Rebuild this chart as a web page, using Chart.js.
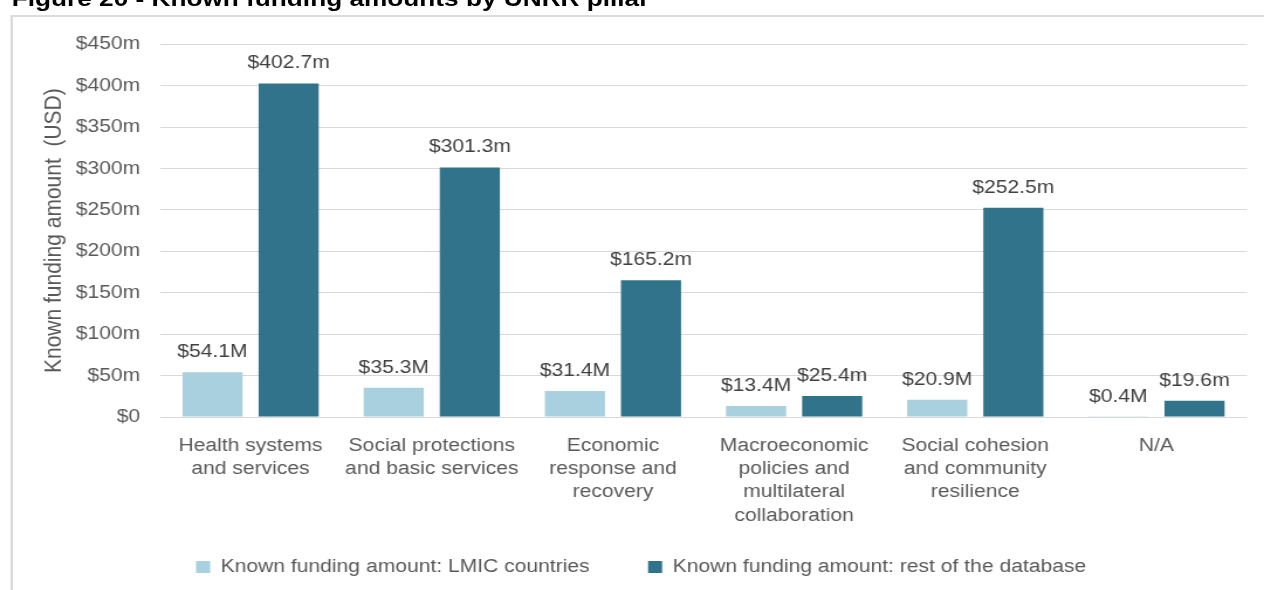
<!DOCTYPE html>
<html>
<head>
<meta charset="utf-8">
<script src="https://cdn.jsdelivr.net/npm/chart.js@4"></script>
<style>
  html, body { margin: 0; padding: 0; background: #fff; overflow: hidden; }
  #wrap {
    position: absolute; left: 0; top: 0;
    width: 1080px; height: 590px;
    transform: scaleX(1.1704); transform-origin: 0 0;
    overflow: hidden;
  }
  #frame {
    position: absolute; left: 8.5px; top: 15px; width: 1200px; height: 700px;
    border-left: 2px solid #d9d9d9; border-top: 2px solid #dcdcdc;
  }
  #title {
    position: absolute; left: 10px; top: -11.8px;
    font: bold 22.4px "Liberation Sans", Arial, sans-serif; line-height: 22px;
    color: #000; white-space: nowrap;
  }
  #chart { position: absolute; left: 0; top: 0; }
</style>
</head>
<body>
<div id="wrap">
  <div id="frame"></div>
  <div id="title">Figure 20 - Known funding amounts by UNRR pillar</div>
  <canvas id="chart" width="1080" height="590"></canvas>
</div>
<script>
// data
const categories = [
  ['Health systems', 'and services'],
  ['Social protections', 'and basic services'],
  ['Economic', 'response and', 'recovery'],
  ['Macroeconomic', 'policies and', 'multilateral', 'collaboration'],
  ['Social cohesion', 'and community', 'resilience'],
  ['N/A']
];
const lmicValues = [54.1, 35.3, 31.4, 13.4, 20.9, 0.4];
const restValues = [402.7, 301.3, 165.2, 25.4, 252.5, 19.6];
const yTicks = [0, 50, 100, 150, 200, 250, 300, 350, 400, 450];

const FONT = '"Liberation Sans", Arial, sans-serif';

// label di atas setiap bar
const barLabels = {
  id: 'barLabels',
  afterDatasetsDraw(chart) {
    const ctx = chart.ctx;
    ctx.save();
    ctx.font = '18px ' + FONT;
    ctx.fillStyle = '#404040';
    ctx.textAlign = 'center';
    ctx.textBaseline = 'alphabetic';
    chart.data.datasets.forEach((ds, i) => {
      const meta = chart.getDatasetMeta(i);
      meta.data.forEach((bar, j) => {
        const v = ds.data[j];
        const txt = '$' + v.toFixed(1) + ds.suffix;
        ctx.fillText(txt, bar.x, bar.y - 15);
      });
    });
    ctx.restore();
  }
};

const chart = new Chart(document.getElementById('chart'), {
  type: 'bar',
  data: {
    labels: categories,
    datasets: [
      {
        label: 'Known funding amount: LMIC countries',
        data: lmicValues,
        suffix: 'M',
        backgroundColor: '#A9D0DE',
        categoryPercentage: 0.84,
        barPercentage: 0.79
      },
      {
        label: 'Known funding amount: rest of the database',
        data: restValues,
        suffix: 'm',
        backgroundColor: '#31738A',
        categoryPercentage: 0.84,
        barPercentage: 0.79
      }
    ]
  },
  options: {
    responsive: false,
    animation: false,
    devicePixelRatio: 1,
    layout: { padding: { left: 30, right: 14.5, top: 44.3, bottom: 4 } },
    scales: {
      x: {
        grid: { display: false },
        border: { display: false },
        ticks: {
          color: '#595959',
          font: { family: FONT, size: 18, lineHeight: 1.3 },
          padding: 9,
          maxRotation: 0,
          autoSkip: false
        },
        afterFit(scale) { scale.height = 131; }
      },
      y: {
        min: 0,
        max: 450,
        afterBuildTicks(scale) { scale.ticks = yTicks.map(v => ({ value: v })); },
        grid: { color: '#d9d9d9', lineWidth: 1, drawTicks: false },
        border: { display: false },
        ticks: {
          color: '#595959',
          font: { family: FONT, size: 18 },
          padding: 17,
          callback: v => v === 0 ? '$0' : '$' + v + 'm'
        },
        title: {
          display: true,
          text: 'Known funding amount  (USD)',
          color: '#595959',
          font: { family: FONT, size: 21 }
        },
        afterFit(scale) { scale.width = 106.7; }
      }
    },
    plugins: {
      legend: {
        position: 'bottom',
        labels: {
          color: '#595959',
          font: { family: FONT, size: 18 },
          boxWidth: 12,
          boxHeight: 12,
          padding: 10,
          generateLabels(chart) {
            const items = Chart.defaults.plugins.legend.labels.generateLabels(chart);
            // jarak antar item legend lebih lebar
            items[0].text = items[0].text + '        ';
            return items;
          }
        }
      },
      tooltip: { enabled: false }
    }
  },
  plugins: [barLabels]
});
</script>
</body>
</html>
